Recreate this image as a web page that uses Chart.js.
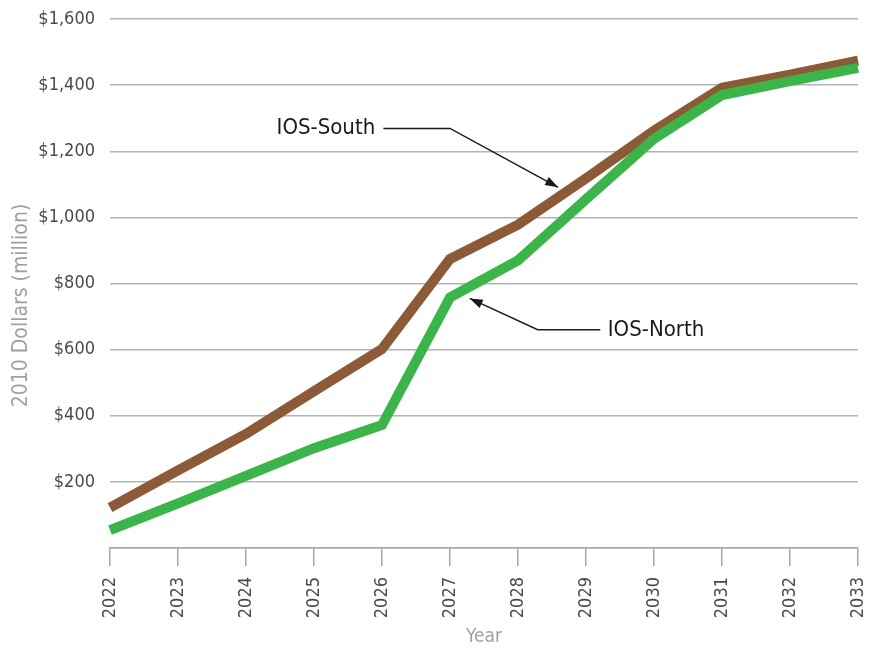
<!DOCTYPE html>
<html>
<head>
<meta charset="utf-8">
<script src="https://cdn.jsdelivr.net/npm/chart.js@4.4.1/dist/chart.umd.min.js"></script>
<style>
  html, body { margin: 0; padding: 0; background: #ffffff; }
  #wrap { width: 878px; height: 653px; }
</style>
</head>
<body>
<div id="wrap"><canvas id="chart" width="878" height="653"></canvas></div>
<script>
// Years along the x axis
const years = ['2022', '2023', '2024', '2025', '2026', '2027', '2028', '2029', '2030', '2031', '2032', '2033'];

// Cost in 2010 dollars (million)
const iosSouth = [122, 235, 345, 474, 602, 874, 978, 1118, 1262, 1392, 1432, 1474];
const iosNorth = [54, 135, 218, 302, 372, 758, 870, 1055, 1238, 1370, 1412, 1452];

// Y axis ticks
const yTicks = [0, 200, 400, 600, 800, 1000, 1200, 1400, 1600];

// Callout labels, in data units (x = year index, y = dollars)
const callouts = [
    { text: 'IOS-South', textAt: [3.9, 1269], align: 'right', path: [[4.02, 1269], [5.0, 1269], [6.59, 1091]] },
    { text: 'IOS-North', textAt: [7.32, 660], align: 'left', path: [[7.21, 660], [6.29, 660], [5.29, 755]] }
];

const FONT = "'DejaVu Sans Condensed', 'Liberation Sans Narrow', sans-serif";

const calloutPlugin = {
    id: 'callouts',
    afterDatasetsDraw(chart) {
        const ctx = chart.ctx;
        const xs = chart.scales.x;
        const ys = chart.scales.y;
        ctx.save();
        callouts.forEach(c => {
            const pts = c.path.map(p => [xs.getPixelForValue(p[0]), ys.getPixelForValue(p[1])]);
            ctx.strokeStyle = '#1a1a1a';
            ctx.lineWidth = 1.5;
            ctx.beginPath();
            ctx.moveTo(pts[0][0], pts[0][1]);
            for (let i = 1; i < pts.length; i++) ctx.lineTo(pts[i][0], pts[i][1]);
            ctx.stroke();

            // arrow head at the last point
            const [x1, y1] = pts[pts.length - 2];
            const [x2, y2] = pts[pts.length - 1];
            const a = Math.atan2(y2 - y1, x2 - x1);
            const len = 13, half = 4.5;
            ctx.fillStyle = '#1a1a1a';
            ctx.beginPath();
            ctx.moveTo(x2, y2);
            ctx.lineTo(x2 - len * Math.cos(a) + half * Math.sin(a), y2 - len * Math.sin(a) - half * Math.cos(a));
            ctx.lineTo(x2 - len * Math.cos(a) - half * Math.sin(a), y2 - len * Math.sin(a) + half * Math.cos(a));
            ctx.closePath();
            ctx.fill();

            ctx.font = '22px ' + FONT;
            ctx.textAlign = c.align;
            ctx.textBaseline = 'middle';
            ctx.fillText(c.text, xs.getPixelForValue(c.textAt[0]), ys.getPixelForValue(c.textAt[1]));
        });

        // y axis title
        ctx.font = '21px ' + FONT;
        ctx.fillStyle = '#a0a0a0';
        ctx.textAlign = 'center';
        ctx.textBaseline = 'middle';
        ctx.translate(22, (chart.chartArea.top + chart.chartArea.bottom) / 2 + 22);
        ctx.rotate(-Math.PI / 2);
        ctx.fillText('2010 Dollars (million)', 0, 0);
        ctx.restore();
    }
};

new Chart(document.getElementById('chart'), {
    type: 'line',
    data: {
        labels: years,
        datasets: [
            {
                label: 'IOS-North',
                data: iosNorth,
                borderColor: '#3bb54a',
                borderWidth: 10,
                pointRadius: 0,
                borderJoinStyle: 'miter',
                borderCapStyle: 'butt',
                tension: 0
            },
            {
                label: 'IOS-South',
                data: iosSouth,
                borderColor: '#8c5a36',
                borderWidth: 10,
                pointRadius: 0,
                borderJoinStyle: 'miter',
                borderCapStyle: 'butt',
                tension: 0
            }
        ]
    },
    options: {
        responsive: false,
        animation: false,
        layout: { padding: { top: 19, right: 20, bottom: 0, left: 0 } },
        plugins: {
            legend: { display: false },
            tooltip: { enabled: false }
        },
        scales: {
            x: {
                grid: {
                    drawOnChartArea: false,
                    drawTicks: true,
                    tickLength: 18,
                    color: '#a8a8a8',
                    lineWidth: 1.5
                },
                border: { display: true, color: '#a8a8a8', width: 1.5 },
                ticks: {
                    color: '#4a4a4a',
                    font: { family: FONT, size: 18 },
                    minRotation: 90,
                    maxRotation: 90,
                    padding: 11
                },
                title: {
                    display: true,
                    text: 'Year',
                    color: '#a0a0a0',
                    font: { family: FONT, size: 19 },
                    padding: { top: 0, bottom: 5 }
                },
                afterFit(scale) {
                    scale.height = 105;
                    scale.paddingLeft = 0;
                    scale.paddingRight = 0;
                }
            },
            y: {
                min: 0,
                max: 1600,
                afterBuildTicks(scale) { scale.ticks = yTicks.map(v => ({ value: v })); },
                grid: {
                    drawTicks: false,
                    color: '#b4b4b4',
                    lineWidth: 1.5
                },
                border: { display: false },
                ticks: {
                    color: '#4a4a4a',
                    font: { family: FONT, size: 18 },
                    padding: 15,
                    callback: v => v === 0 ? '' : '$' + v.toLocaleString('en-US')
                },
                afterFit(scale) {
                    scale.width = 110;
                    scale.paddingTop = 0;
                    scale.paddingBottom = 0;
                }
            }
        }
    },
    plugins: [calloutPlugin]
});
</script>
</body>
</html>
